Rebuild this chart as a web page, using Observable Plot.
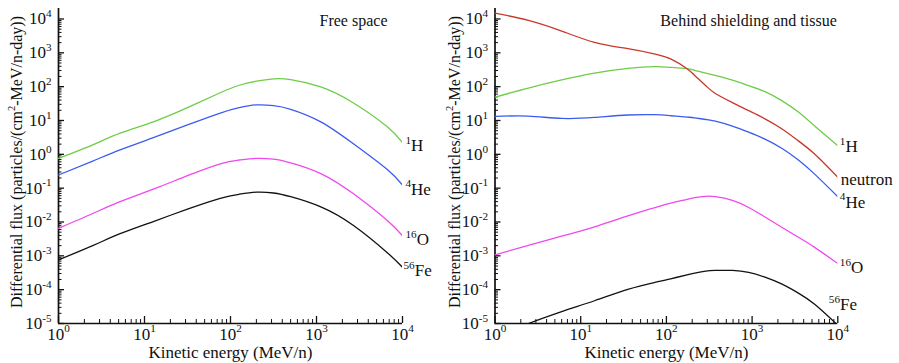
<!DOCTYPE html>
<html><head><meta charset="utf-8">
<script src="https://cdn.jsdelivr.net/npm/d3@7"></script>
<script src="https://cdn.jsdelivr.net/npm/@observablehq/plot@0.6"></script>
<style>
body{margin:0;background:#fff}
#wrap{position:relative;width:899px;height:363px;overflow:hidden;background:#fff}
.p{position:absolute;top:0}
#wrap svg, #wrap svg text, #wrap svg tspan{font-family:"Liberation Serif","Times New Roman",serif !important}
</style>
</head><body>
<div id="wrap"><div id="left" class="p" style="left:0"></div><div id="right" class="p" style="left:449px"></div></div>
<script>
// ---------- data ----------
// Free space (energy in MeV/n, flux in particles/(cm2-MeV/n-day))
const freeE  = [1, 2.5, 5.2, 12.9, 31.6, 76, 126, 200, 316, 501, 1122, 2692, 6607, 10000];
const freeH  = [0.76, 1.9, 4.2, 9.3, 24, 66, 110, 145, 170, 162, 98, 33, 6.6, 2.2];
const freeHe = [0.245, 0.63, 1.35, 3.16, 7.4, 16.6, 24, 28.8, 27.5, 21.4, 9.1, 2.04, 0.36, 0.123];
const freeO  = [0.0065, 0.0178, 0.040, 0.095, 0.234, 0.525, 0.68, 0.76, 0.72, 0.56, 0.27, 0.068, 0.0112, 0.0039];
const freeFe = [7.6e-4, 2.0e-3, 4.5e-3, 0.0105, 0.024, 0.050, 0.066, 0.076, 0.072, 0.056, 0.028, 0.0079, 0.00126, 4.6e-4];

// Behind shielding and tissue
const shieldE  = [1, 2.45, 6.0, 14.5, 35.5, 72, 112, 174, 214, 288, 372, 589, 912, 1413, 2239, 3467, 5370, 10000];
const shieldH  = [49, 91, 158, 251, 347, 389, 372, 339, 302, 251, 214, 155, 107, 71, 38, 17.8, 6.9, 1.8];
const shieldN  = [14800, 9100, 4400, 2040, 1320, 930, 660, 340, 214, 107, 63, 33.9, 19.5, 11.2, 5.6, 2.5, 1.02, 0.21];
const shieldHe = [13.2, 13.5, 11.5, 12.3, 14.5, 14.8, 13.8, 12.6, 12.0, 10.7, 9.5, 6.8, 4.5, 2.8, 1.48, 0.68, 0.26, 0.056];
const shieldO  = [1.07e-3, 2.04e-3, 3.8e-3, 7.2e-3, 0.0151, 0.0263, 0.0363, 0.0468, 0.0525, 0.0575, 0.0562, 0.0437, 0.0269, 0.0141, 0.0069, 0.00355, 0.00178, 5.9e-4];
const shieldFe = [null, 1.0e-5, 2.24e-5, 4.7e-5, 1.02e-4, 1.62e-4, 2.09e-4, 2.75e-4, 3.1e-4, 3.55e-4, 3.7e-4, 3.7e-4, 3.24e-4, 2.34e-4, 1.45e-4, 7.9e-5, 3.7e-5, 8.9e-6];

const seriesNames  = ["1H", "neutron", "4He", "16O", "56Fe"];
const seriesLabels = ["^{1}H", "neutron", "^{4}He", "^{16}O", "^{56}Fe"];
const seriesColors = ["#6fcc48", "#c8382a", "#3a5cf0", "#ee48ee", "#111111"];

const majorTicks = [1e-5, 1e-4, 1e-3, 1e-2, 1e-1, 1, 10, 100, 1000, 10000];
const minorMult = [2, 3, 4, 5, 6, 7, 8, 9];
const titles = ["Free space", "Behind shielding and tissue"];
const xTitle = "Kinetic energy (MeV/n)";
const yTitle = "Differential flux (particles/(cm^{2}-MeV/n-day))";

// ---------- helpers ----------
const minorY = [];
for (let k = -5; k <= 3; k++) for (const m of minorMult) minorY.push(m * 10 ** k);
const majorX = [1, 10, 100, 1000, 10000];
const minorX = [];
for (let k = 0; k <= 3; k++) for (const m of minorMult) minorX.push(m * 10 ** k);
const fmt = d => "10^{" + Math.round(Math.log10(d)) + "}";
const FONT = "'Liberation Serif','Times New Roman',serif";

function sup(svg) {
  const NS = "http://www.w3.org/2000/svg";
  d3.select(svg).selectAll("text").each(function () {
    const el = this, s = el.textContent;
    if (!s.includes("^{")) return;
    const fs = parseFloat(getComputedStyle(el).fontSize) || 15;
    const parts = s.split(/\^\{([^}]*)\}/);
    while (el.firstChild) el.removeChild(el.firstChild);
    let cur = 0;
    parts.forEach((p, i) => {
      const isSup = i % 2 === 1;
      const target = isSup ? -0.42 * fs : 0;
      if (!p && !isSup) { return; }
      const t = document.createElementNS(NS, "tspan");
      t.textContent = p;
      if (target !== cur) t.setAttribute("dy", (target - cur).toFixed(2));
      if (isSup) t.setAttribute("font-size", (0.66 * fs).toFixed(1) + "px");
      cur = target;
      el.appendChild(t);
    });
  });
}

function panel(cfg) {
  const data = [];
  cfg.series.forEach(s => s.F.forEach((f, i) => { if (f != null) data.push({E: cfg.E[i], F: f, name: s.name}); }));
  const ends = cfg.series.map(s => ({E: cfg.E[cfg.E.length - 1], F: Math.max(1e-5, s.F[s.F.length - 1]), label: s.label, name: s.name}));
  const plot = Plot.plot({
    width: cfg.width, height: 363,
    marginLeft: cfg.marginLeft, marginRight: cfg.marginRight, marginTop: 8, marginBottom: 40,
    style: {fontFamily: FONT, fontSize: "15px", color: "#111", background: "transparent", overflow: "visible"},
    x: {type: "log", domain: [1, 1e4], label: null},
    y: {type: "log", domain: [1e-5, 2.04e4], label: null},
    color: {domain: seriesNames, range: seriesColors},
    marks: [
      Plot.axisY({ticks: majorTicks, tickSize: 0, tickPadding: 7, tickFormat: fmt, fontSize: 17}),
      Plot.axisY({ticks: majorTicks, tickSize: -6, strokeWidth: 1.3, tickFormat: () => ""}),
      Plot.axisY({ticks: minorY, tickSize: -3.5, tickFormat: () => ""}),
      Plot.axisX({ticks: majorX, tickSize: 0, tickPadding: 4, tickFormat: fmt, fontSize: 17}),
      Plot.axisX({ticks: majorX, tickSize: -7, strokeWidth: 1.3, tickFormat: () => ""}),
      Plot.axisX({ticks: minorX, tickSize: -4, tickFormat: () => ""}),
      Plot.ruleX([1], {strokeWidth: 1.7, stroke: "#111"}),
      Plot.ruleY([1e-5], {strokeWidth: 1.7, stroke: "#111"}),
      Plot.line(data, {x: "E", y: "F", z: "name", stroke: "name", curve: "natural", strokeWidth: 1.3, clip: true}),
      ...ends.map((d, i) => Plot.text([d], {x: "E", y: "F", text: "label", textAnchor: "start", lineAnchor: "middle",
        dx: cfg.labelOffsets[i][0], dy: cfg.labelOffsets[i][1], fontSize: 17})),
      Plot.text([cfg.title], {frameAnchor: "top-right", textAnchor: "end", lineAnchor: "middle", dx: cfg.titleDx, dy: 12, fontSize: 16}),
      Plot.text([xTitle], {frameAnchor: "bottom", textAnchor: "middle", lineAnchor: "middle", dy: 29, fontSize: 17}),
      Plot.text([yTitle], {frameAnchor: "left", textAnchor: "middle", rotate: -90, lineAnchor: "middle", dx: cfg.yTitleDx, dy: -4, fontSize: 16})
    ]
  });
  return plot;
}

const left = panel({
  width: 449, marginLeft: 58, marginRight: 47, E: freeE, title: titles[0], titleDx: -15, yTitleDx: -42,
  series: [
    {name: "1H", label: seriesLabels[0], F: freeH},
    {name: "4He", label: seriesLabels[2], F: freeHe},
    {name: "16O", label: seriesLabels[3], F: freeO},
    {name: "56Fe", label: seriesLabels[4], F: freeFe}
  ],
  labelOffsets: [[3, 3], [3, 4], [3, 3.5], [1, 3]]
});
const right = panel({
  width: 450, marginLeft: 45.5, marginRight: 61.7, E: shieldE, title: titles[1], titleDx: -1, yTitleDx: -40.5,
  series: [
    {name: "1H", label: seriesLabels[0], F: shieldH},
    {name: "neutron", label: seriesLabels[1], F: shieldN},
    {name: "4He", label: seriesLabels[2], F: shieldHe},
    {name: "16O", label: seriesLabels[3], F: shieldO},
    {name: "56Fe", label: seriesLabels[4], F: shieldFe}
  ],
  labelOffsets: [[2, 1], [3, 2], [2, 5.5], [2, 4], [-9, -18.5]]
});
document.getElementById("left").appendChild(left);
document.getElementById("right").appendChild(right);
sup(left); sup(right);
</script>
</body></html>
